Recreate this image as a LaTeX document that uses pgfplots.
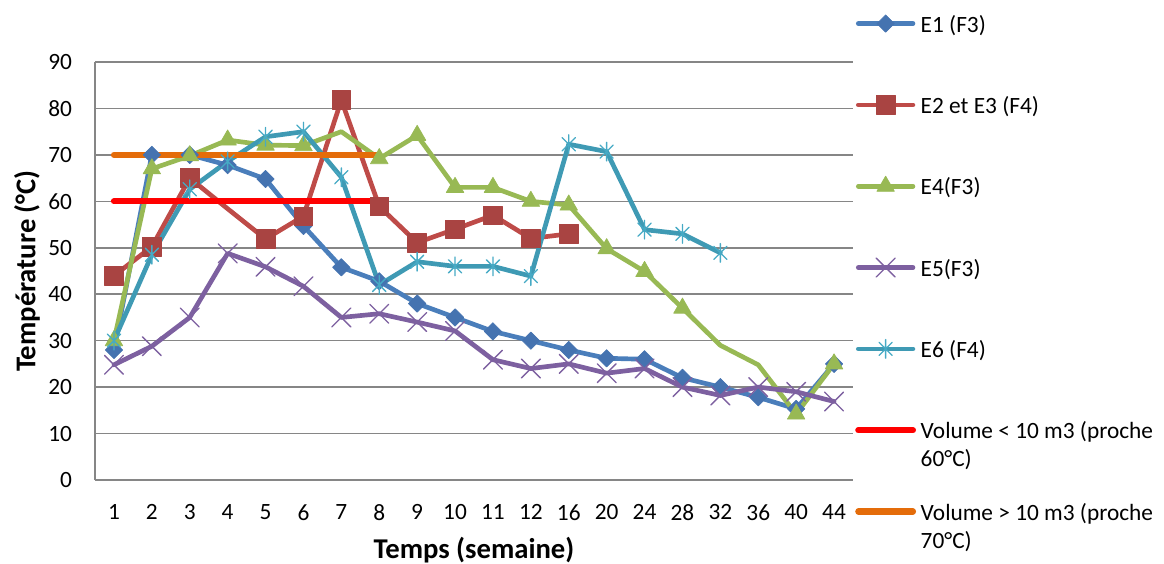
\documentclass[border=0pt]{standalone}
\usepackage{fontspec}
\setmainfont{Carlito}
\usepackage{pgfplots}
\pgfplotsset{compat=1.18}
\definecolor{cE1}{HTML}{4A7EBB}
\definecolor{cE1m}{HTML}{4573B0}
\definecolor{cE2}{HTML}{BE4B48}
\definecolor{cE2m}{HTML}{A94442}
\definecolor{cE4}{HTML}{98B954}
\definecolor{cE5}{HTML}{7D60A0}
\definecolor{cE6}{HTML}{46AAC5}
\definecolor{cE6m}{HTML}{3F9AB4}
\definecolor{cRed}{HTML}{FF0000}
\definecolor{cOr}{HTML}{E46C0A}
\definecolor{gridc}{HTML}{868686}
\newcommand{\tl}{\fontsize{17.5}{21}\selectfont}
\newcommand{\lb}{\fontsize{21.5}{25}\selectfont\bfseries}
\pgfdeclareplotmark{xstar}{%
  \pgfpathmoveto{\pgfqpoint{0pt}{\pgfplotmarksize}}%
  \pgfpathlineto{\pgfqpoint{0pt}{-\pgfplotmarksize}}%
  \pgfpathmoveto{\pgfqpoint{-.7071\pgfplotmarksize}{-.7071\pgfplotmarksize}}%
  \pgfpathlineto{\pgfqpoint{.7071\pgfplotmarksize}{.7071\pgfplotmarksize}}%
  \pgfpathmoveto{\pgfqpoint{-.7071\pgfplotmarksize}{.7071\pgfplotmarksize}}%
  \pgfpathlineto{\pgfqpoint{.7071\pgfplotmarksize}{-.7071\pgfplotmarksize}}%
  \pgfusepathqstroke}
\begin{document}
\begin{tikzpicture}
\path[use as bounding box] (-71.25pt,-63pt) rectangle (801.75pt,360pt);
\begin{axis}[
  at={(0,0)}, anchor=south west,
  scale only axis, width=568.5pt, height=313.5pt,
  xmin=-0.5, xmax=19.5, ymin=0, ymax=90,
  axis x line*=bottom, axis y line*=left,
  axis line style={draw=gridc, line width=1.1pt},
  ymajorgrids, grid style={draw=gridc, line width=1.1pt},
  major tick length=0pt,
  xtick={0,...,19},
  xticklabels={1,2,3,4,5,6,7,8,9,10,11,12,16,20,24,28,32,36,40,44},
  ytick={0,10,...,90},
  tick label style={font=\tl},
  /pgf/number format/assume math mode=true,
  xticklabel style={anchor=north, inner sep=0pt, yshift=-18pt},
  yticklabel style={anchor=east, inner sep=0pt, xshift=-17pt},
  xlabel={Temps (semaine)}, ylabel={Température (°C)},
  xlabel style={font=\lb, at={(axis description cs:0.5,-0.1675)}, anchor=center},
  ylabel style={font=\lb, at={(axis description cs:-0.0897,0.5)}, anchor=center},
  legend cell align=left,
  legend image code/.code={\draw[mark repeat=2,mark phase=2] plot coordinates {(0pt,0pt) (20.5pt,0pt) (41pt,0pt)};},
  legend style={at={(axis description cs:1.0026,1.1325)}, anchor=north west,
    draw=none, fill=none, inner xsep=0pt, inner ysep=0pt,
    row sep=36pt, column sep=3.5pt, font=\tl,
    nodes={inner sep=0pt, text height=19pt, text depth=6pt}},
  every axis plot/.append style={line width=3.5pt, line join=round, line cap=round},
  e1/.style={color=cE1, mark=square*, mark size=4.6pt,
    mark options={rotate=45, fill=cE1m, draw=cE1m, line width=0.5pt}},
  e2/.style={color=cE2, mark=square*, mark size=7pt,
    mark options={fill=cE2m, draw=cE2m, line width=0.5pt}},
  e4/.style={color=cE4, mark=triangle*, mark size=7.6pt,
    mark options={fill=cE4, draw=cE4, line width=0.5pt}},
  e5/.style={color=cE5, mark=x, mark size=10pt,
    mark options={draw=cE5, line width=1pt}},
  e6/.style={color=cE6m, mark=xstar, mark size=7pt,
    mark options={draw=cE6, line width=1pt}},
  vr/.style={color=cRed, no markers, line width=4.6pt, line cap=round},
  vo/.style={color=cOr, no markers, line width=4.6pt, line cap=round},
]
% E1 (F3)
\addplot[e1, forget plot]
  coordinates {(0,28)(1,70)(2,70)(3,67.8)(4,64.8)(5,54.7)(6,45.8)(7,42.8)(8,38)(9,35)(10,32)(11,30)(12,28)(13,26.2)(14,26)(15,22)(16,20)(17,17.8)(18,15.3)(19,25)};
% E2 et E3 (F4)
\addplot[e2, forget plot, mark indices={1,2,3,5,6,7,8,9,10,11,12,13}]
  coordinates {(0,44)(1,50.2)(2,65)(3,58.4)(4,51.9)(5,56.8)(6,81.8)(7,58.9)(8,51.1)(9,54)(10,57)(11,52)(12,53)};
% E4(F3)
\addplot[e4, forget plot, mark indices={1,2,3,4,5,6,8,9,10,11,12,13,14,15,16,19,20}]
  coordinates {(0,30)(1,67)(2,69.8)(3,73.2)(4,72.1)(5,72)(6,75)(7,69.2)(8,74.2)(9,63)(10,63)(11,60)(12,59.2)(13,49.8)(14,44.9)(15,37)(16,29)(17,24.8)(18,14.2)(19,25)};
% E5(F3)
\addplot[e5, forget plot]
  coordinates {(0,24.8)(1,28.8)(2,35)(3,48.8)(4,45.9)(5,41.7)(6,35)(7,35.8)(8,34)(9,32.1)(10,25.9)(11,24)(12,25)(13,23)(14,24)(15,20)(16,18.2)(17,20)(18,19)(19,16.9)};
% E6 (F4)
\addplot[e6, forget plot]
  coordinates {(0,30)(1,48.5)(2,62.6)(3,68.6)(4,73.9)(5,75)(6,65.2)(7,42)(8,47)(9,46)(10,46)(11,43.9)(12,72.3)(13,70.7)(14,53.9)(15,53)(16,48.9)};
% Volume < 10 m3
\addplot[vr, forget plot]
  coordinates {(0,60)(1,60)(2,60)(3,60)(4,60)(5,60)(6,60)(7,60)};
% Volume > 10 m3
\addplot[vo, forget plot]
  coordinates {(0,70)(1,70)(2,70)(3,70)(4,70)(5,70)(6,70)(7,70)};
% legend
\addlegendimage{e1, line width=3.5pt, line cap=round}
\addlegendentry{E1 (F3)}
\addlegendimage{e2, line width=3.5pt, line cap=round}
\addlegendentry{E2 et E3 (F4)}
\addlegendimage{e4, line width=3.5pt, line cap=round}
\addlegendentry{E4(F3)}
\addlegendimage{e5, line width=3.5pt, line cap=round}
\addlegendentry{E5(F3)}
\addlegendimage{e6, line width=3.5pt, line cap=round}
\addlegendentry{E6 (F4)}
\addlegendimage{vr}
\addlegendentry{\raisebox{0pt}[0pt][0pt]{\begin{tabular}[t]{@{}l@{}}Volume < 10 m3 (proche\\60°C)\end{tabular}}}
\addlegendimage{vo}
\addlegendentry{\raisebox{0pt}[0pt][0pt]{\begin{tabular}[t]{@{}l@{}}Volume > 10 m3 (proche\\70°C)\end{tabular}}}
\end{axis}
\end{tikzpicture}
\end{document}
